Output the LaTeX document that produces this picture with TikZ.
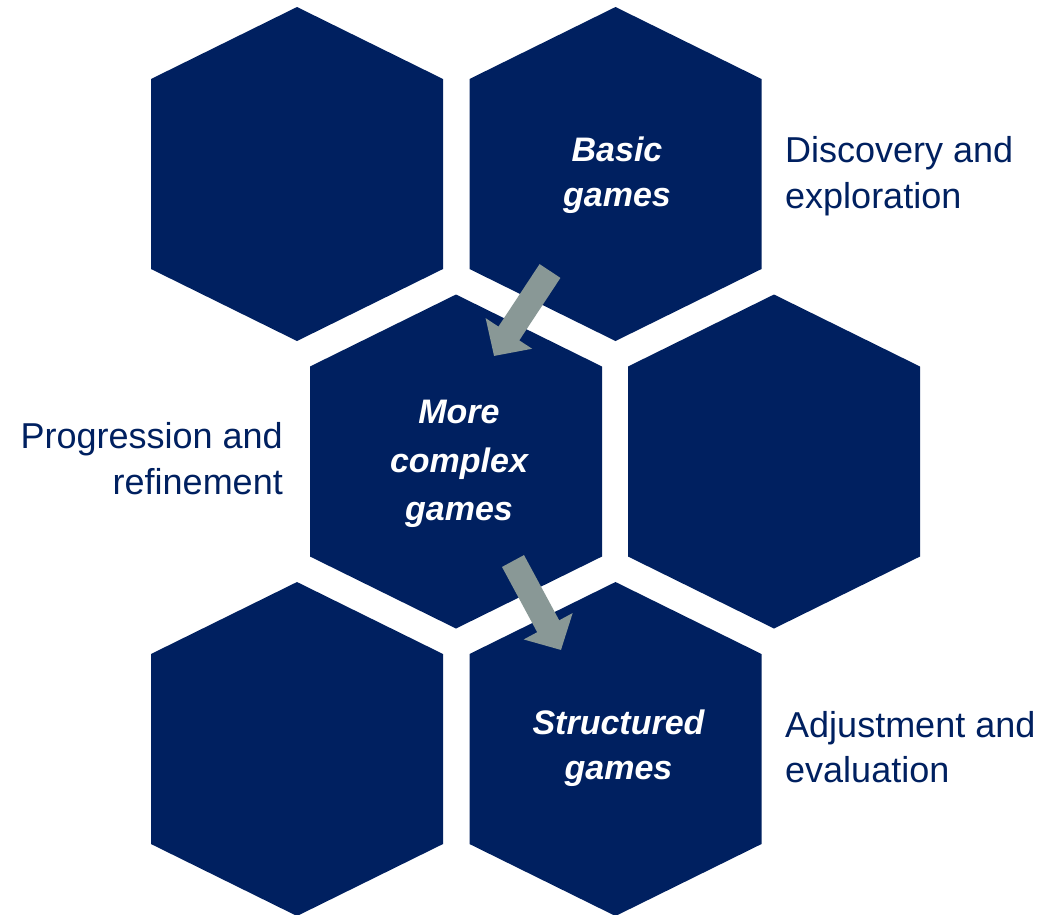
\documentclass[tikz,border=0pt]{standalone}
\usepackage{fontspec}
\setmainfont{Liberation Sans}
\usetikzlibrary{positioning,calc,arrows.meta}
\definecolor{navy}{RGB}{0,32,96}
\definecolor{arrowgrey}{RGB}{137,152,150}
\tikzset{hexcell/.pic={\fill[navy] (0,-167) -- (146,-95) -- (146,95) -- (0,167) -- (-146,95) -- (-146,-95) -- cycle;}}
\tikzset{gametext/.style={text=white,align=center,inner sep=0pt,font=\fontsize{34}{45}\selectfont\bfseries\itshape}}
\tikzset{sidetext/.style={text=navy,inner sep=0pt,font=\fontsize{36}{46}\selectfont}}
\tikzset{steparrow/.style={draw=arrowgrey,line width=25pt,-{Triangle[length=27pt,width=54pt]}}}

\begin{document}
\begin{tikzpicture}[x=1pt,y=-1pt]
	\useasboundingbox (0,0) rectangle (1048,914);
		\coordinate (hA) at (297,174);
			\coordinate (hB) at (615.5,174);
			\coordinate (hC) at (456,461.5);
			\coordinate (hD) at (774,461.5);
			\coordinate (hE) at (297,749);
			\coordinate (hF) at (615.5,749);
		\foreach \h in {hA,hB,hC,hD,hE,hF}
			\pic at (\h) {hexcell};

		\node[gametext] (basic) at (617,175) {Basic\\games};
		\node[gametext] (complex) at (459,464) {More\\[3.5pt]complex\\[3.5pt]games};
		\node[gametext] (structured) at (618.5,748.5) {Structured\\games};

		\node[sidetext,anchor=west,align=left] (discovery) at (785,176) {Discovery and\\exploration};
		\node[sidetext,anchor=east,align=right] (progression) at (283,459) {Progression and\\refinement};
		\node[sidetext,anchor=west,align=left] (adjustment) at (785,747.5) {Adjustment and\\[-1pt]evaluation};

		\coordinate (a1s) at (550,271);
		\coordinate (a1e) at (494,356);
		\coordinate (a2s) at (513,561);
		\coordinate (a2e) at (561,650);
		\draw[steparrow] (a1s) -- (a1e);
		\draw[steparrow] (a2s) -- (a2e);
	\end{tikzpicture}
\end{document}
